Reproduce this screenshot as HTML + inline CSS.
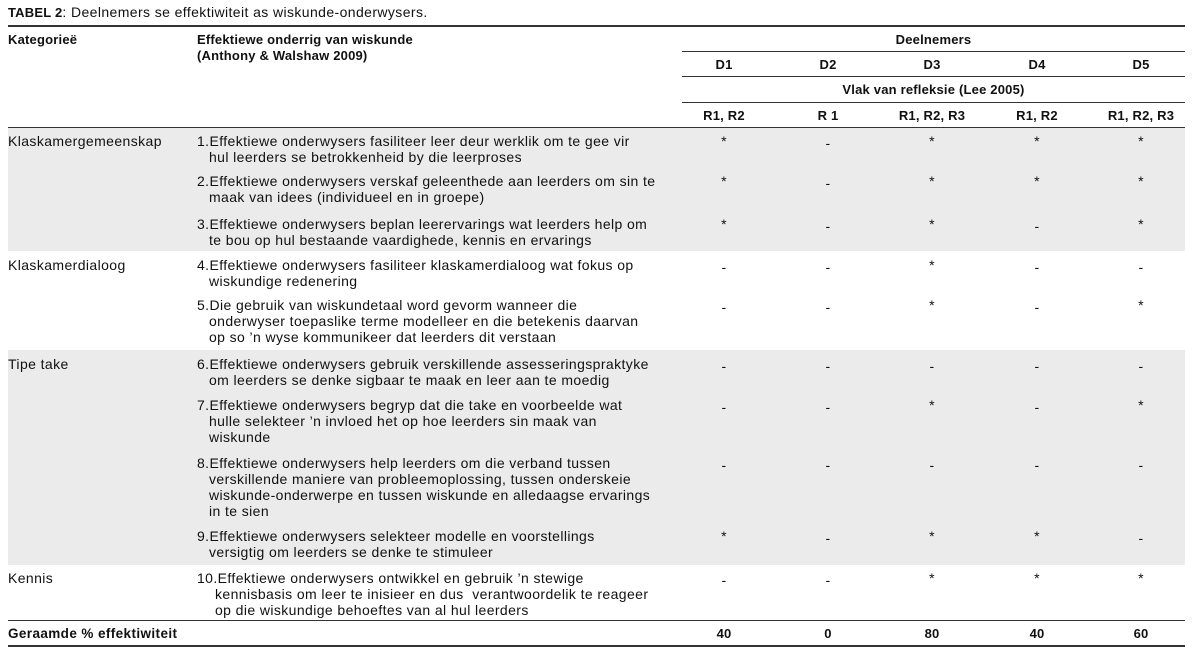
<!DOCTYPE html>
<html><head><meta charset="utf-8"><style>
body{margin:0;width:1193px;height:656px;background:#fff;position:relative;font-family:"Liberation Sans",Arial,sans-serif;font-size:14px;letter-spacing:0.4px;color:#111;overflow:hidden}
.a{position:absolute;white-space:pre;line-height:16px}
.b{font-weight:bold;font-size:13px;letter-spacing:0.2px}
b{font-size:13px;letter-spacing:0.2px}
.c{position:absolute;width:100px;text-align:center;line-height:16px;white-space:pre}
.g{position:absolute;left:8px;width:1177px;background:#ebebeb}
.l{position:absolute;background:#333}
.i{padding-left:12px}
</style></head><body>
<div class="g" style="top:128px;height:123px"></div>
<div class="g" style="top:350px;height:215px"></div>
<div class="a" style="left:8px;top:4px"><b>TABEL 2</b>: Deelnemers se effektiwiteit as wiskunde-onderwysers.</div>
<div class="l" style="left:8px;width:1177px;top:25px;height:2px"></div>
<div class="l" style="left:682px;width:503px;top:51px;height:1px"></div>
<div class="l" style="left:682px;width:503px;top:76px;height:1px"></div>
<div class="l" style="left:682px;width:503px;top:102px;height:1px"></div>
<div class="l" style="left:8px;width:1177px;top:127px;height:1px"></div>
<div class="l" style="left:8px;width:1177px;top:620px;height:1px"></div>
<div class="l" style="left:8px;width:1177px;top:645px;height:2px"></div>
<div class="a b" style="left:8px;top:32px">Kategorieë</div>
<div class="a b" style="left:197px;top:32px">Effektiewe onderrig van wiskunde
(Anthony &amp; Walshaw 2009)</div>
<div class="a b" style="left:682px;width:503px;text-align:center;top:32px">Deelnemers</div>
<div class="a b" style="left:682px;width:503px;text-align:center;top:82px">Vlak van refleksie (Lee 2005)</div>
<div class="c b" style="left:674px;top:57px">D1</div><div class="c b" style="left:778px;top:57px">D2</div><div class="c b" style="left:882px;top:57px">D3</div><div class="c b" style="left:987px;top:57px">D4</div><div class="c b" style="left:1091px;top:57px">D5</div>
<div class="c b" style="left:674px;top:108px">R1, R2</div><div class="c b" style="left:778px;top:108px">R 1</div><div class="c b" style="left:882px;top:108px">R1, R2, R3</div><div class="c b" style="left:987px;top:108px">R1, R2</div><div class="c b" style="left:1091px;top:108px">R1, R2, R3</div>

<div class="a" style="left:8px;top:133px">Klaskamergemeenskap</div>
<div class="a" style="left:8px;top:257px">Klaskamerdialoog</div>
<div class="a" style="left:8px;top:356px">Tipe take</div>
<div class="a" style="left:8px;top:570px">Kennis</div>

<div class="a" style="left:197px;top:133px">1.Effektiewe onderwysers fasiliteer leer deur werklik om te gee vir
<span class="i">hul leerders se betrokkenheid by die leerproses</span></div>
<div class="a" style="left:197px;top:173px">2.Effektiewe onderwysers verskaf geleenthede aan leerders om sin te
<span class="i">maak van idees (individueel en in groepe)</span></div>
<div class="a" style="left:197px;top:216px">3.Effektiewe onderwysers beplan leerervarings wat leerders help om
<span class="i">te bou op hul bestaande vaardighede, kennis en ervarings</span></div>
<div class="a" style="left:197px;top:257px">4.Effektiewe onderwysers fasiliteer klaskamerdialoog wat fokus op
<span class="i">wiskundige redenering</span></div>
<div class="a" style="left:197px;top:297px">5.Die gebruik van wiskundetaal word gevorm wanneer die
<span class="i">onderwyser toepaslike terme modelleer en die betekenis daarvan</span>
<span class="i">op so ’n wyse kommunikeer dat leerders dit verstaan</span></div>
<div class="a" style="left:197px;top:356px">6.Effektiewe onderwysers gebruik verskillende assesseringspraktyke
<span class="i">om leerders se denke sigbaar te maak en leer aan te moedig</span></div>
<div class="a" style="left:197px;top:397px">7.Effektiewe onderwysers begryp dat die take en voorbeelde wat
<span class="i">hulle selekteer ’n invloed het op hoe leerders sin maak van</span>
<span class="i">wiskunde</span></div>
<div class="a" style="left:197px;top:455px">8.Effektiewe onderwysers help leerders om die verband tussen
<span class="i">verskillende maniere van probleemoplossing, tussen onderskeie</span>
<span class="i">wiskunde-onderwerpe en tussen wiskunde en alledaagse ervarings</span>
<span class="i">in te sien</span></div>
<div class="a" style="left:197px;top:528px">9.Effektiewe onderwysers selekteer modelle en voorstellings
<span class="i">versigtig om leerders se denke te stimuleer</span></div>
<div class="a" style="left:197px;top:570px">10.Effektiewe onderwysers ontwikkel en gebruik ’n stewige
<span style="padding-left:18px">kennisbasis om leer te inisieer en dus  verantwoordelik te reageer</span>
<span style="padding-left:18px">op die wiskundige behoeftes van al hul leerders</span></div>

<div class="c" style="left:674px;top:133px">*</div><div class="c" style="left:778px;top:135px">-</div><div class="c" style="left:882px;top:133px">*</div><div class="c" style="left:987px;top:133px">*</div><div class="c" style="left:1091px;top:133px">*</div>
<div class="c" style="left:674px;top:173px">*</div><div class="c" style="left:778px;top:175px">-</div><div class="c" style="left:882px;top:173px">*</div><div class="c" style="left:987px;top:173px">*</div><div class="c" style="left:1091px;top:173px">*</div>
<div class="c" style="left:674px;top:216px">*</div><div class="c" style="left:778px;top:218px">-</div><div class="c" style="left:882px;top:216px">*</div><div class="c" style="left:987px;top:218px">-</div><div class="c" style="left:1091px;top:216px">*</div>
<div class="c" style="left:674px;top:259px">-</div><div class="c" style="left:778px;top:259px">-</div><div class="c" style="left:882px;top:257px">*</div><div class="c" style="left:987px;top:259px">-</div><div class="c" style="left:1091px;top:259px">-</div>
<div class="c" style="left:674px;top:299px">-</div><div class="c" style="left:778px;top:299px">-</div><div class="c" style="left:882px;top:297px">*</div><div class="c" style="left:987px;top:299px">-</div><div class="c" style="left:1091px;top:297px">*</div>
<div class="c" style="left:674px;top:358px">-</div><div class="c" style="left:778px;top:358px">-</div><div class="c" style="left:882px;top:358px">-</div><div class="c" style="left:987px;top:358px">-</div><div class="c" style="left:1091px;top:358px">-</div>
<div class="c" style="left:674px;top:399px">-</div><div class="c" style="left:778px;top:399px">-</div><div class="c" style="left:882px;top:397px">*</div><div class="c" style="left:987px;top:399px">-</div><div class="c" style="left:1091px;top:397px">*</div>
<div class="c" style="left:674px;top:457px">-</div><div class="c" style="left:778px;top:457px">-</div><div class="c" style="left:882px;top:457px">-</div><div class="c" style="left:987px;top:457px">-</div><div class="c" style="left:1091px;top:457px">-</div>
<div class="c" style="left:674px;top:528px">*</div><div class="c" style="left:778px;top:530px">-</div><div class="c" style="left:882px;top:528px">*</div><div class="c" style="left:987px;top:528px">*</div><div class="c" style="left:1091px;top:530px">-</div>
<div class="c" style="left:674px;top:572px">-</div><div class="c" style="left:778px;top:572px">-</div><div class="c" style="left:882px;top:570px">*</div><div class="c" style="left:987px;top:570px">*</div><div class="c" style="left:1091px;top:570px">*</div>

<div class="a b" style="left:8px;top:626px;font-size:13.5px;letter-spacing:0.4px">Geraamde % effektiwiteit</div>
<div class="c b" style="left:674px;top:626px">40</div><div class="c b" style="left:778px;top:626px">0</div><div class="c b" style="left:882px;top:626px">80</div><div class="c b" style="left:987px;top:626px">40</div><div class="c b" style="left:1091px;top:626px">60</div>
</body></html>
